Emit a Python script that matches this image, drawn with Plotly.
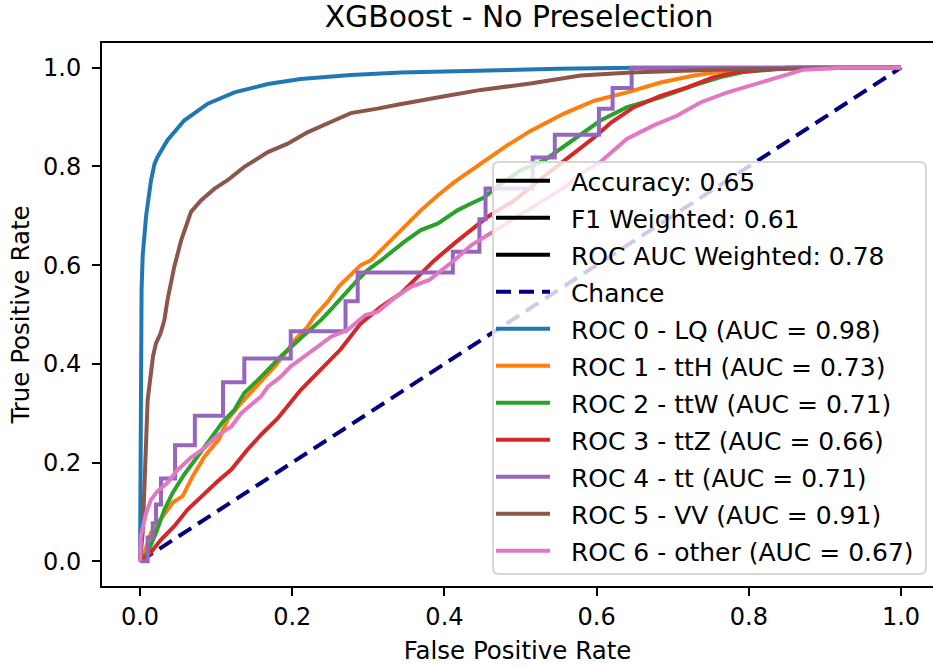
import plotly.graph_objects as go

# ---------------- data ----------------
title_text = "XGBoost - No Preselection"
metric_labels = ["Accuracy: 0.65", "F1 Weighted: 0.61", "ROC AUC Weighted: 0.78"]
chance_x = [0.0, 1.0]
chance_y = [0.0, 1.0]

class_names = ["ROC 0 - LQ (AUC = 0.98)", "ROC 1 - ttH (AUC = 0.73)",
               "ROC 2 - ttW (AUC = 0.71)", "ROC 3 - ttZ (AUC = 0.66)",
               "ROC 4 - tt (AUC = 0.71)", "ROC 5 - VV (AUC = 0.91)",
               "ROC 6 - other (AUC = 0.67)"]
class_colors = ["#1f77b4", "#ff7f0e", "#2ca02c", "#d62728", "#9467bd", "#8c564b", "#e377c2"]

fpr_lq = [0, 0.0005, 0.001, 0.002, 0.0035, 0.008, 0.0144, 0.019, 0.023, 0.036, 0.058, 0.089,
          0.124, 0.168, 0.211, 0.277, 0.343, 0.45, 0.55, 0.65, 1.0]
tpr_lq = [0, 0.30, 0.45, 0.55, 0.62, 0.70, 0.772, 0.805, 0.819, 0.853, 0.893, 0.927,
          0.950, 0.967, 0.977, 0.985, 0.990, 0.995, 0.998, 1.0, 1.0]

fpr_tth = [0, 0.0035, 0.0144, 0.032, 0.043, 0.056, 0.069, 0.085, 0.096, 0.104, 0.115, 0.133,
           0.155, 0.177, 0.194, 0.203, 0.220, 0.229, 0.246, 0.262, 0.290, 0.3035, 0.321, 0.347,
           0.369, 0.391, 0.413, 0.435, 0.457, 0.479, 0.513, 0.557, 0.597, 0.640, 0.684, 0.728,
           0.763, 0.798, 0.85, 1.0]
tpr_tth = [0, 0.0075, 0.058, 0.095, 0.119, 0.132, 0.172, 0.213, 0.233, 0.248, 0.287, 0.321,
           0.358, 0.395, 0.428, 0.448, 0.475, 0.496, 0.525, 0.558, 0.600, 0.610, 0.637, 0.677,
           0.711, 0.741, 0.768, 0.792, 0.815, 0.839, 0.872, 0.907, 0.933, 0.950, 0.970, 0.984,
           0.992, 0.996, 1.0, 1.0]

fpr_ttw = [0, 0.010, 0.021, 0.032, 0.043, 0.058, 0.076, 0.093, 0.109, 0.124, 0.137, 0.160,
           0.187, 0.211, 0.238, 0.250, 0.273, 0.286, 0.299, 0.317, 0.347, 0.369, 0.391, 0.417,
           0.435, 0.452, 0.470, 0.500, 0.531, 0.557, 0.579, 0.605, 0.640, 0.684, 0.728, 0.763,
           0.793, 0.86, 1.0]
tpr_ttw = [0, 0.018, 0.058, 0.105, 0.139, 0.176, 0.213, 0.250, 0.283, 0.307, 0.341, 0.375,
           0.418, 0.452, 0.489, 0.509, 0.549, 0.570, 0.590, 0.610, 0.647, 0.671, 0.684, 0.711,
           0.725, 0.737, 0.760, 0.792, 0.812, 0.840, 0.866, 0.893, 0.920, 0.940, 0.964, 0.981,
           0.991, 1.0, 1.0]

fpr_ttz = [0, 0.012, 0.0276, 0.045, 0.0625, 0.085, 0.102, 0.120, 0.141, 0.160, 0.181, 0.211,
           0.238, 0.264, 0.290, 0.316, 0.343, 0.369, 0.387, 0.413, 0.435, 0.457, 0.492, 0.535,
           0.577, 0.597, 0.619, 0.649, 0.684, 0.719, 0.754, 0.785, 0.85, 1.0]
tpr_ttz = [0, 0.014, 0.044, 0.071, 0.105, 0.139, 0.162, 0.186, 0.226, 0.258, 0.290, 0.347,
           0.388, 0.430, 0.482, 0.515, 0.543, 0.583, 0.610, 0.644, 0.671, 0.698, 0.731, 0.785,
           0.835, 0.859, 0.889, 0.920, 0.943, 0.960, 0.981, 0.991, 1.0, 1.0]

fpr_tt = [0, 0.010, 0.010, 0.0166, 0.0166, 0.021, 0.021, 0.0275, 0.0275, 0.046, 0.046, 0.072,
          0.072, 0.109, 0.109, 0.137, 0.137, 0.198, 0.198, 0.270, 0.270, 0.286, 0.286, 0.411,
          0.411, 0.446, 0.446, 0.454, 0.454, 0.516, 0.516, 0.545, 0.545, 0.603, 0.603, 0.621,
          0.621, 0.646, 0.646, 1.0]
tpr_tt = [0, 0, 0.048, 0.048, 0.077, 0.077, 0.115, 0.115, 0.168, 0.168, 0.235, 0.235,
          0.295, 0.295, 0.363, 0.363, 0.411, 0.411, 0.466, 0.466, 0.527, 0.527, 0.585, 0.585,
          0.627, 0.627, 0.693, 0.693, 0.755, 0.755, 0.818, 0.818, 0.864, 0.864, 0.917, 0.917,
          0.959, 0.959, 1.0, 1.0]

fpr_vv = [0, 0.0035, 0.010, 0.017, 0.021, 0.027, 0.032, 0.036, 0.045, 0.054, 0.067, 0.080,
          0.098, 0.115, 0.137, 0.168, 0.194, 0.220, 0.255, 0.277, 0.312, 0.338, 0.40, 0.448,
          0.513, 0.579, 0.645, 0.754, 0.864, 0.93, 1.0]
tpr_vv = [0, 0.058, 0.327, 0.415, 0.442, 0.462, 0.489, 0.529, 0.597, 0.650, 0.708, 0.731,
          0.755, 0.772, 0.799, 0.829, 0.846, 0.869, 0.893, 0.908, 0.917, 0.925, 0.942, 0.955,
          0.968, 0.984, 0.990, 0.996, 0.998, 1.0, 1.0]

fpr_other = [0, 0.0, 0.001, 0.008, 0.0144, 0.023, 0.036, 0.048, 0.067, 0.085, 0.102, 0.120,
             0.133, 0.159, 0.168, 0.185, 0.198, 0.216, 0.233, 0.251, 0.273, 0.296, 0.312, 0.334,
             0.356, 0.380, 0.413, 0.435, 0.457, 0.496, 0.531, 0.557, 0.579, 0.605, 0.640, 0.675,
             0.706, 0.737, 0.772, 0.815, 0.850, 0.872, 0.925, 1.0]
tpr_other = [0, 0.004, 0.051, 0.098, 0.125, 0.142, 0.159, 0.183, 0.210, 0.230, 0.255, 0.273,
             0.300, 0.334, 0.354, 0.374, 0.395, 0.415, 0.435, 0.455, 0.469, 0.499, 0.505, 0.533,
             0.556, 0.570, 0.610, 0.640, 0.661, 0.698, 0.731, 0.757, 0.785, 0.809, 0.856, 0.883,
             0.903, 0.930, 0.950, 0.970, 0.987, 0.996, 1.0, 1.0]

fprs = [fpr_lq, fpr_tth, fpr_ttw, fpr_ttz, fpr_tt, fpr_vv, fpr_other]
tprs = [tpr_lq, tpr_tth, tpr_ttw, tpr_ttz, tpr_tt, tpr_vv, tpr_other]

x_ticks = [0.0, 0.2, 0.4, 0.6, 0.8, 1.0]
y_ticks = [0.0, 0.2, 0.4, 0.6, 0.8, 1.0]

# ---------------- layout constants ----------------
W, H = 933, 666
ML, MR, MT, MB = 102, 0, 43, 80
FONT = "DejaVu Sans"
LW = 4
PAD = "\u00a0\u00a0"  # gap between legend line sample and label


def pxx(p):
    return (p - ML) / (W - ML - MR)


def pxy(p):
    return (H - MB - p) / (H - MT - MB)


fig = go.Figure()

for i, lab in enumerate(metric_labels):
    fig.add_trace(go.Scatter(x=[None], y=[None], mode="lines", name=PAD + lab,
                             legendgroup="g%d" % i,
                             line=dict(color="black", width=LW)))

fig.add_trace(go.Scatter(x=chance_x, y=chance_y, mode="lines", name=PAD + "Chance",
                         legendgroup="g3",
                         line=dict(color="#000080", width=LW, dash="15px,8px")))

for i, (fx, ty) in enumerate(zip(fprs, tprs)):
    fig.add_trace(go.Scatter(x=fx, y=ty, mode="lines", name=PAD + class_names[i],
                             legendgroup="g%d" % (i + 4),
                             line=dict(color=class_colors[i], width=LW)))

# legend frame (rounded, semi-transparent)
x0, x1, y0, y1 = 493, 926, 162, 574
r = 6
path = ("M {a},{b} L {c},{b} Q {d},{b} {d},{e} L {d},{f} Q {d},{g} {c},{g} "
        "L {a},{g} Q {h},{g} {h},{f} L {h},{e} Q {h},{b} {a},{b} Z").format(
    a=pxx(x0 + r), b=pxy(y0), c=pxx(x1 - r), d=pxx(x1), e=pxy(y0 + r),
    f=pxy(y1 - r), g=pxy(y1), h=pxx(x0))
fig.add_shape(type="path", path=path, xref="paper", yref="paper", layer="above",
              fillcolor="rgba(255,255,255,0.8)", line=dict(color="#d6d6d6", width=2))

axis_common = dict(showgrid=False, zeroline=False, showline=True, linecolor="black",
                   linewidth=2, ticks="outside", ticklen=8, tickwidth=2, tickcolor="black",
                   tickfont=dict(family=FONT, size=24, color="black"))

fig.update_layout(
    width=W, height=H,
    margin=dict(l=ML, r=MR, t=MT, b=MB),
    paper_bgcolor="white", plot_bgcolor="white",
    font=dict(family=FONT, size=24, color="black"),
    title=dict(text=title_text, x=pxx(519), xref="paper", y=1 - 17 / H, yref="container",
               xanchor="center", yanchor="middle",
               font=dict(family=FONT, size=29.8, color="black")),
    xaxis=dict(range=[-0.05, 1.042], tickvals=x_ticks, ticktext=["%.1f" % v for v in x_ticks],
               mirror=True,
               title=dict(text="False Positive Rate", standoff=12,
                          font=dict(family=FONT, size=24.5, color="black")),
               **axis_common),
    yaxis=dict(range=[-0.05, 1.05], tickvals=y_ticks, ticktext=["%.1f" % v for v in y_ticks],
               mirror=False, ticklabelstandoff=6,
               title=dict(text="True Positive Rate", standoff=6,
                          font=dict(family=FONT, size=24.5, color="black")),
               **axis_common),
    legend=dict(x=pxx(x0 - 2), y=pxy(y0 - 4), xanchor="left", yanchor="top",
                bgcolor="rgba(0,0,0,0)", borderwidth=0, itemwidth=54,
                tracegroupgap=1.5, traceorder="grouped",
                font=dict(family=FONT, size=25, color="black")),
    showlegend=True,
)

fig.write_html("out.html")
